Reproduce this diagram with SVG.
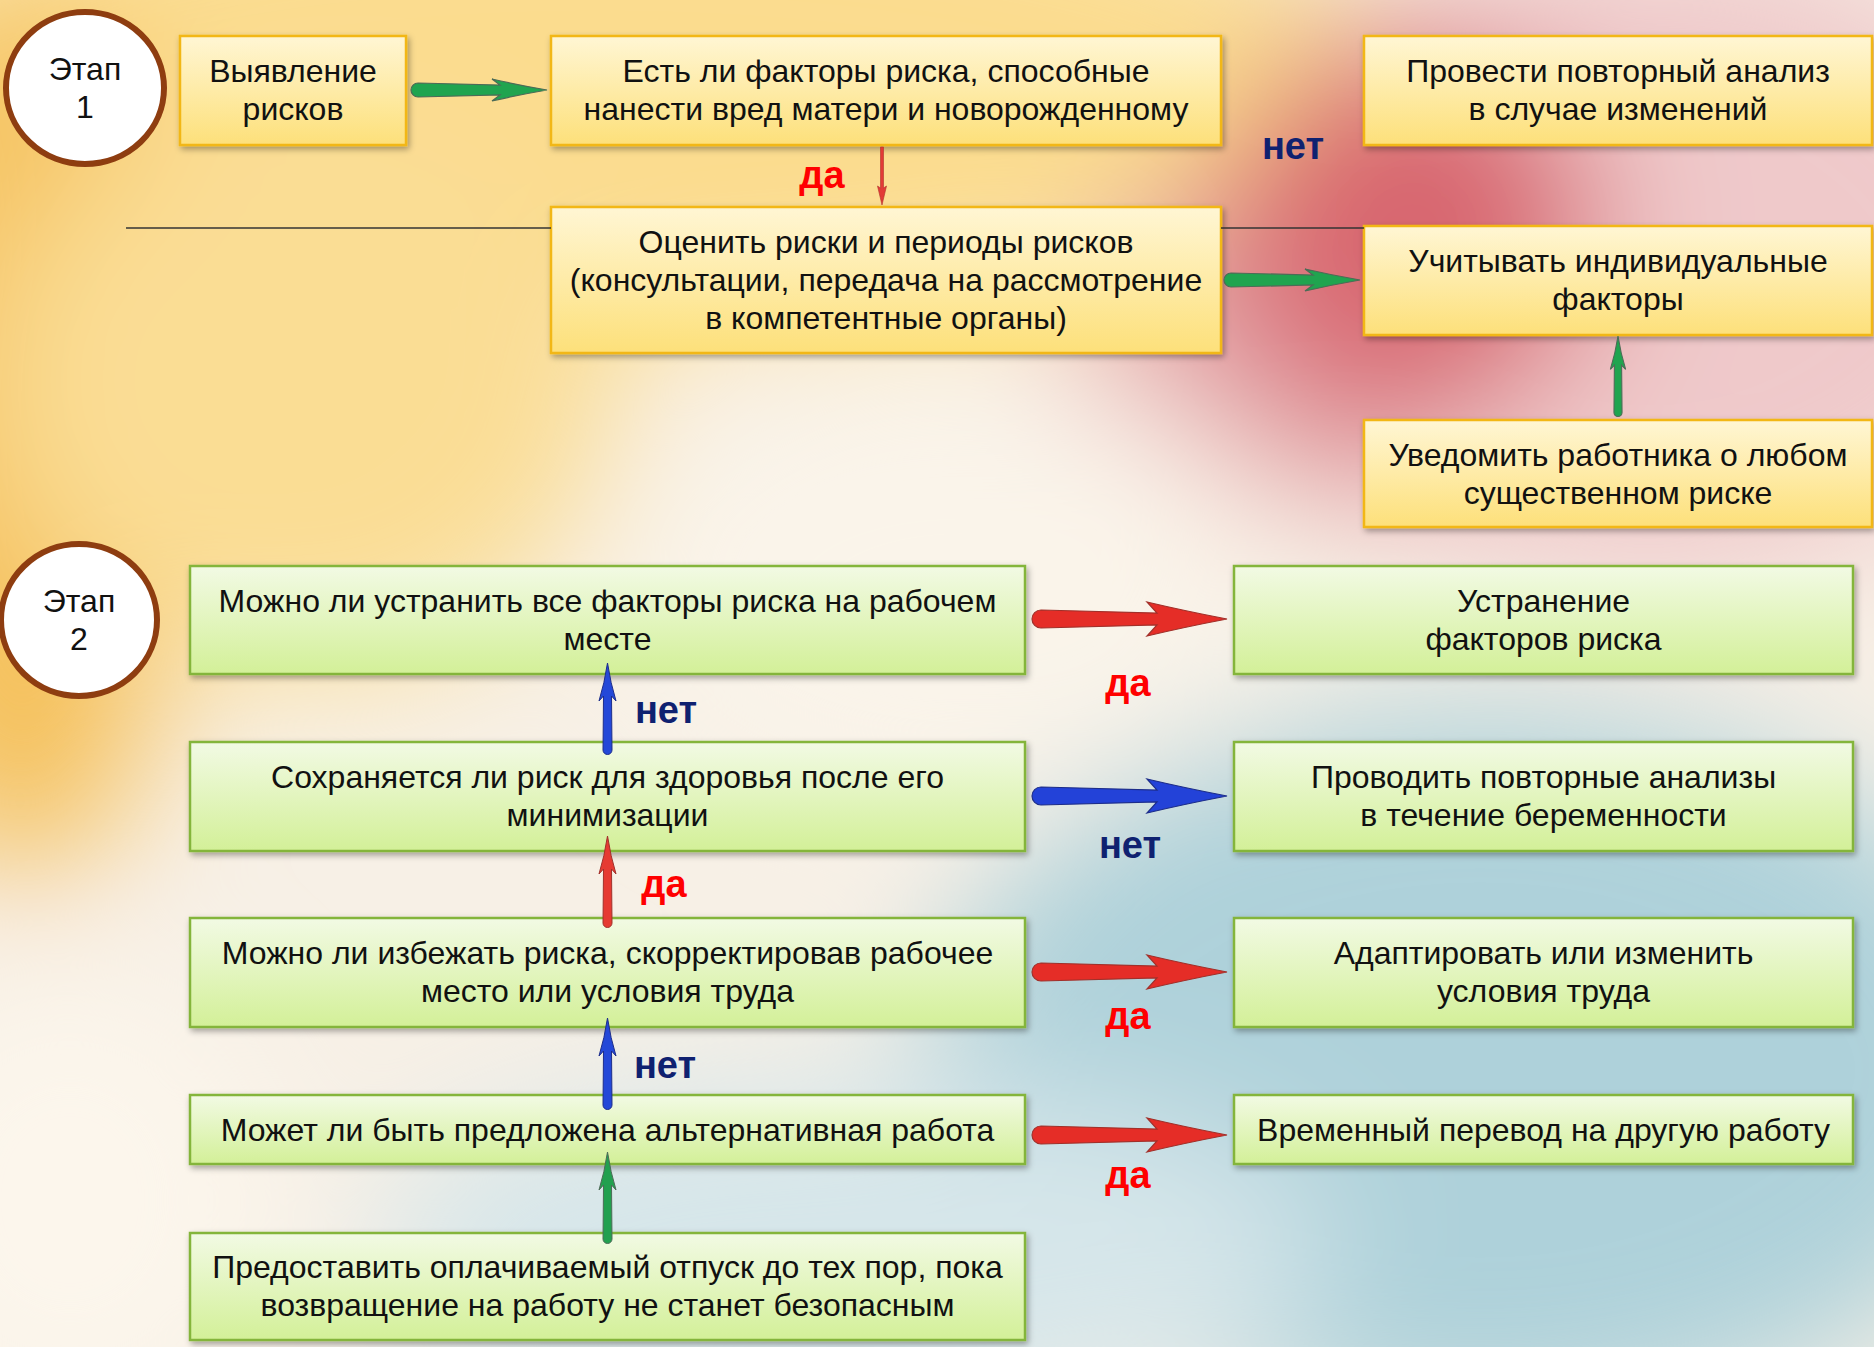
<svg xmlns="http://www.w3.org/2000/svg" xmlns:xlink="http://www.w3.org/1999/xlink" width="1874" height="1347" viewBox="0 0 1874 1347">
<style>
.t{font-family:"Liberation Sans",Arial,sans-serif;font-size:32px;fill:#111;text-anchor:middle}
.st{font-family:"Liberation Sans",Arial,sans-serif;font-size:32px;fill:#111;text-anchor:middle}
.yes{font-family:"Liberation Sans",Arial,sans-serif;font-size:38px;font-weight:bold;fill:#ff0000;text-anchor:middle}
.no{font-family:"Liberation Sans",Arial,sans-serif;font-size:38px;font-weight:bold;fill:#0f2170;text-anchor:middle}
.yb{fill:url(#gy);stroke:#f2b716;stroke-width:2.5;filter:url(#sh)}
.gb{fill:url(#gg);stroke:#84b53a;stroke-width:2.5;filter:url(#sh)}
.circ{fill:#fff;stroke:#8e3d10;stroke-width:6}
</style>
<defs>
<linearGradient id="gy" x1="0" y1="0" x2="0" y2="1"><stop offset="0" stop-color="#fff6d4"/><stop offset="1" stop-color="#fde07a"/></linearGradient>
<linearGradient id="gg" x1="0" y1="0" x2="0" y2="1"><stop offset="0" stop-color="#f2fae4"/><stop offset="1" stop-color="#d3f098"/></linearGradient>
<filter id="sh" x="-5%" y="-20%" width="110%" height="150%"><feDropShadow dx="2" dy="3" stdDeviation="3" flood-color="#000" flood-opacity="0.35"/></filter>
<filter id="blur" x="-20%" y="-20%" width="140%" height="140%"><feGaussianBlur stdDeviation="70"/></filter>
<path id="bigArrow" d="M6,-9 L122,-6 L112,-17 Q150,-8 192,0 Q150,8 112,17 L122,6 L6,9 A9 9 0 0 1 6,-9 Z"/>
<path id="grArrow" d="M5,-7 L87,-5 L79,-11 Q105,-5 134,0 Q105,5 79,11 L87,5 L5,7 A7 7 0 0 1 5,-7 Z"/>
<path id="vArrow" d="M0,0 Q3,20 8.5,38 L4,33 L4.5,87 A4.5 4.5 0 0 1 -4.5,87 L-4,33 L-8.5,38 Q-3,20 0,0 Z"/>
</defs>
<g id="background">
<rect x="0" y="0" width="1874" height="1347" fill="#f7f0e6"/>
<g filter="url(#blur)">
<ellipse cx="600" cy="80" rx="800" ry="240" fill="#fbdc8e"/>
<ellipse cx="20" cy="440" rx="170" ry="440" fill="#f5c058"/>
<ellipse cx="300" cy="380" rx="320" ry="290" fill="#fadd94"/>
<ellipse cx="1650" cy="260" rx="420" ry="320" fill="#efc9ca"/>
<ellipse cx="1290" cy="340" rx="220" ry="170" fill="#e4a6aa"/>
<ellipse cx="1410" cy="230" rx="190" ry="190" fill="#d8666f"/>
<ellipse cx="950" cy="580" rx="330" ry="220" fill="#faf4ea"/>
<ellipse cx="1480" cy="1070" rx="560" ry="360" fill="#aed1da"/>
<ellipse cx="850" cy="1250" rx="480" ry="170" fill="#d6e6ea"/>
<ellipse cx="70" cy="1200" rx="200" ry="220" fill="#fcf6ec"/>
</g>
</g>
<g id="stage1">
<ellipse class="circ" cx="85" cy="88" rx="79" ry="76"/>
<text class="st" x="85" y="80">Этап</text>
<text class="st" x="85" y="118">1</text>
</g>
<g id="stage2">
<ellipse class="circ" cx="79" cy="620" rx="78" ry="76"/>
<text class="st" x="79" y="612">Этап</text>
<text class="st" x="79" y="650">2</text>
</g>
<g id="n_identify">
<rect class="yb" x="180" y="36" width="226" height="109"/>
<text class="t" x="293" y="82">Выявление</text>
<text class="t" x="293" y="120">рисков</text>
</g>
<g id="n_factors">
<rect class="yb" x="551" y="36" width="670" height="109"/>
<text class="t" x="886" y="82">Есть ли факторы риска, способные</text>
<text class="t" x="886" y="120">нанести вред матери и новорожденному</text>
</g>
<g id="n_assess">
<rect class="yb" x="551" y="207" width="670" height="146"/>
<text class="t" x="886" y="253">Оценить риски и периоды рисков</text>
<text class="t" x="886" y="291">(консультации, передача на рассмотрение</text>
<text class="t" x="886" y="329">в компетентные органы)</text>
</g>
<g id="n_reanalyze">
<rect class="yb" x="1364" y="36" width="508" height="109"/>
<text class="t" x="1618" y="82">Провести повторный анализ</text>
<text class="t" x="1618" y="120">в случае изменений</text>
</g>
<g id="n_individual">
<rect class="yb" x="1364" y="226" width="508" height="109"/>
<text class="t" x="1618" y="272">Учитывать индивидуальные</text>
<text class="t" x="1618" y="310">факторы</text>
</g>
<g id="n_notify">
<rect class="yb" x="1364" y="420" width="508" height="107"/>
<text class="t" x="1618" y="466">Уведомить работника о любом</text>
<text class="t" x="1618" y="504">существенном риске</text>
</g>
<g id="n_eliminate_q">
<rect class="gb" x="190" y="566" width="835" height="108"/>
<text class="t" x="607.5" y="612">Можно ли устранить все факторы риска на рабочем</text>
<text class="t" x="607.5" y="650">месте</text>
</g>
<g id="n_persist_q">
<rect class="gb" x="190" y="742" width="835" height="109"/>
<text class="t" x="607.5" y="788">Сохраняется ли риск для здоровья после его</text>
<text class="t" x="607.5" y="826">минимизации</text>
</g>
<g id="n_avoid_q">
<rect class="gb" x="190" y="918" width="835" height="109"/>
<text class="t" x="607.5" y="964">Можно ли избежать риска, скорректировав рабочее</text>
<text class="t" x="607.5" y="1002">место или условия труда</text>
</g>
<g id="n_alt_q">
<rect class="gb" x="190" y="1095" width="835" height="69"/>
<text class="t" x="607.5" y="1141">Может ли быть предложена альтернативная работа</text>
</g>
<g id="n_leave">
<rect class="gb" x="190" y="1233" width="835" height="107"/>
<text class="t" x="607.5" y="1278">Предоставить оплачиваемый отпуск до тех пор, пока</text>
<text class="t" x="607.5" y="1316">возвращение на работу не станет безопасным</text>
</g>
<g id="n_eliminate">
<rect class="gb" x="1234" y="566" width="619" height="108"/>
<text class="t" x="1543.5" y="612">Устранение</text>
<text class="t" x="1543.5" y="650">факторов риска</text>
</g>
<g id="n_repeat">
<rect class="gb" x="1234" y="742" width="619" height="109"/>
<text class="t" x="1543.5" y="788">Проводить повторные анализы</text>
<text class="t" x="1543.5" y="826">в течение беременности</text>
</g>
<g id="n_adapt">
<rect class="gb" x="1234" y="918" width="619" height="109"/>
<text class="t" x="1543.5" y="964">Адаптировать или изменить</text>
<text class="t" x="1543.5" y="1002">условия труда</text>
</g>
<g id="n_transfer">
<rect class="gb" x="1234" y="1095" width="619" height="69"/>
<text class="t" x="1543.5" y="1141">Временный перевод на другую работу</text>
</g>
<g id="connectors">
<line x1="126" y1="228" x2="551" y2="228" stroke="#333" stroke-width="1.5"/>
<line x1="1221" y1="228" x2="1364" y2="228" stroke="#333" stroke-width="1.5"/>
<use href="#grArrow" transform="translate(413,90)" fill="#20a44f" stroke="#4d6b57" stroke-width="1.2"/>
<use href="#grArrow" transform="translate(1226,280)" fill="#20a44f" stroke="#4d6b57" stroke-width="1.2"/>
<path d="M880.5,147 L883.5,147 L883.5,188 L886.5,186 L882,205 L877.5,186 L880.5,188 Z" fill="#e23a36" stroke="#b0302c" stroke-width="0.6"/>
<use href="#vArrow" transform="translate(1618,336) scale(0.9,0.88)" fill="#20a44f" stroke="#4d6b57" stroke-width="1.2"/>
<use href="#bigArrow" transform="translate(1035,619)" fill="#e52d27" stroke="#a1302a" stroke-width="1.2"/>
<use href="#bigArrow" transform="translate(1035,796)" fill="#2342d8" stroke="#1d2d8a" stroke-width="1.2"/>
<use href="#bigArrow" transform="translate(1035,972)" fill="#e52d27" stroke="#a1302a" stroke-width="1.2"/>
<use href="#bigArrow" transform="translate(1035,1135)" fill="#e52d27" stroke="#a1302a" stroke-width="1.2"/>
<use href="#vArrow" transform="translate(607.5,663)" fill="#2448d8" stroke="#1d2d8a" stroke-width="1"/>
<use href="#vArrow" transform="translate(607.5,836)" fill="#e63a32" stroke="#a1302a" stroke-width="1"/>
<use href="#vArrow" transform="translate(607.5,1018)" fill="#2448d8" stroke="#1d2d8a" stroke-width="1"/>
<use href="#vArrow" transform="translate(607.5,1152)" fill="#22a04f" stroke="#4d6b57" stroke-width="1"/>
<text class="yes" x="822" y="188">да</text>
<text class="no" x="1293" y="159">нет</text>
<text class="no" x="666" y="723">нет</text>
<text class="yes" x="664" y="897">да</text>
<text class="no" x="665" y="1078">нет</text>
<text class="yes" x="1128" y="696">да</text>
<text class="no" x="1130" y="858">нет</text>
<text class="yes" x="1128" y="1029">да</text>
<text class="yes" x="1128" y="1188">да</text>
</g>
</svg>
